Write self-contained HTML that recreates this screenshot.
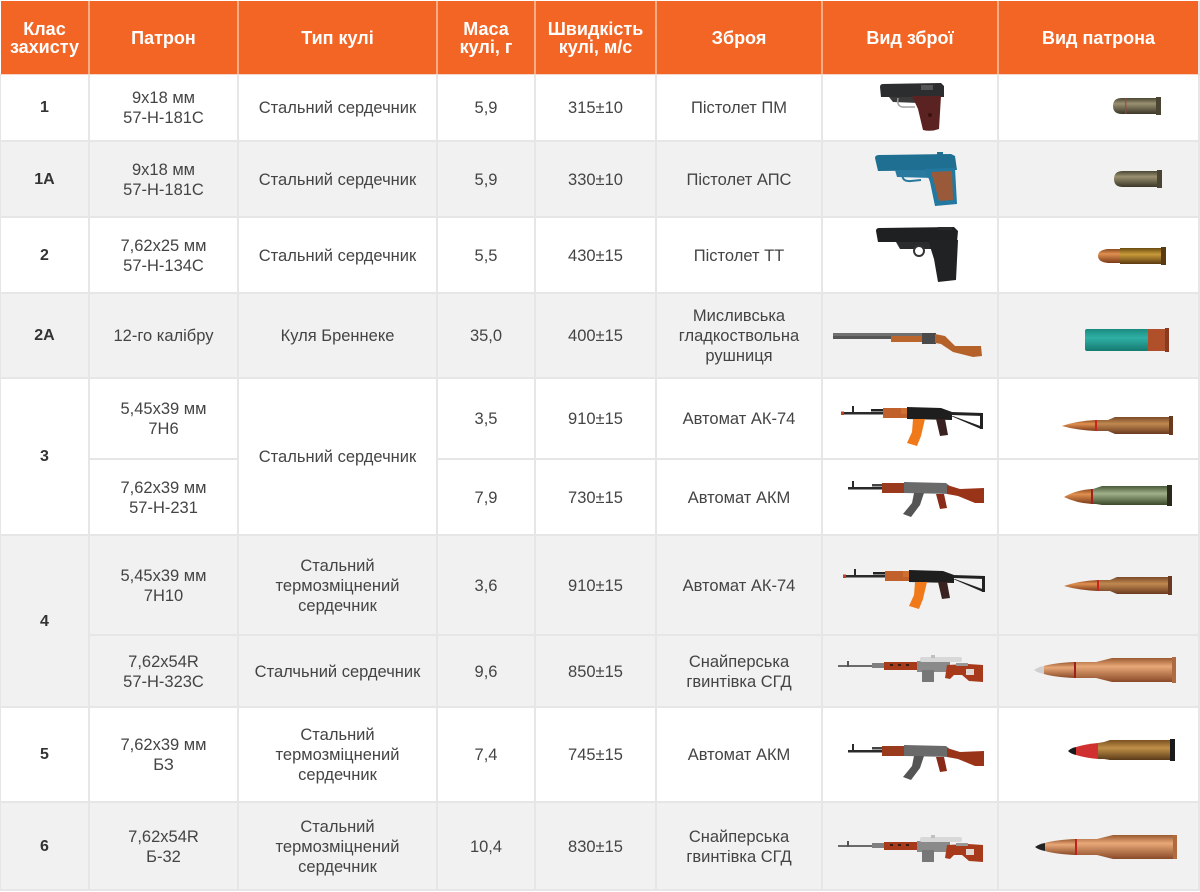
<!DOCTYPE html>
<html>
<head>
<meta charset="utf-8">
<style>
html,body{margin:0;padding:0;}
body{width:1200px;height:892px;position:relative;overflow:hidden;background:#fff;font-family:"Liberation Sans","Noto Sans CJK SC",sans-serif;}
.bg{position:absolute;}
.l{position:absolute;background:#e6e6e6;}
.hl{position:absolute;background:#f7ab86;}
.c{position:absolute;display:flex;align-items:center;justify-content:center;text-align:center;font-size:16.5px;line-height:20px;color:#444;}
.h{position:absolute;display:flex;align-items:center;justify-content:center;text-align:center;font-size:18px;line-height:18px;color:#fff;font-weight:bold;}
.b{font-weight:bold;font-size:16px;color:#333;}
svg{position:absolute;left:0;top:0;}
</style>
</head>
<body>
<!-- backgrounds -->
<div class="bg" style="left:1px;top:1px;width:1197px;height:73px;background:#f26524;"></div>
<div class="bg" style="left:0;top:141px;width:1200px;height:76px;background:#f1f1f1;"></div>
<div class="bg" style="left:0;top:293px;width:1200px;height:85px;background:#f1f1f1;"></div>
<div class="bg" style="left:0;top:535px;width:1200px;height:172px;background:#f1f1f1;"></div>
<div class="bg" style="left:0;top:802px;width:1200px;height:88px;background:#f1f1f1;"></div>

<!-- header lines -->
<div class="hl" style="left:88px;top:1px;width:2px;height:73px;"></div>
<div class="hl" style="left:237px;top:1px;width:2px;height:73px;"></div>
<div class="hl" style="left:436px;top:1px;width:2px;height:73px;"></div>
<div class="hl" style="left:534px;top:1px;width:2px;height:73px;"></div>
<div class="hl" style="left:655px;top:1px;width:2px;height:73px;"></div>
<div class="hl" style="left:821px;top:1px;width:2px;height:73px;"></div>
<div class="hl" style="left:997px;top:1px;width:2px;height:73px;"></div>

<!-- body vertical lines -->
<div class="l" style="left:0;top:74px;width:1px;height:817px;"></div>
<div class="l" style="left:88px;top:74px;width:2px;height:817px;"></div>
<div class="l" style="left:237px;top:74px;width:2px;height:817px;"></div>
<div class="l" style="left:436px;top:74px;width:2px;height:817px;"></div>
<div class="l" style="left:534px;top:74px;width:2px;height:817px;"></div>
<div class="l" style="left:655px;top:74px;width:2px;height:817px;"></div>
<div class="l" style="left:821px;top:74px;width:2px;height:817px;"></div>
<div class="l" style="left:997px;top:74px;width:2px;height:817px;"></div>
<div class="l" style="left:1198px;top:1px;width:2px;height:890px;"></div>

<!-- horizontal lines -->
<div class="l" style="left:0;top:74px;width:1200px;height:1px;background:#f3d6c8;"></div>
<div class="l" style="left:0;top:140px;width:1200px;height:2px;"></div>
<div class="l" style="left:0;top:216px;width:1200px;height:2px;"></div>
<div class="l" style="left:0;top:292px;width:1200px;height:2px;"></div>
<div class="l" style="left:0;top:377px;width:1200px;height:2px;"></div>
<div class="l" style="left:88px;top:458px;width:150px;height:2px;"></div>
<div class="l" style="left:436px;top:458px;width:764px;height:2px;"></div>
<div class="l" style="left:0;top:534px;width:1200px;height:2px;"></div>
<div class="l" style="left:88px;top:634px;width:1112px;height:2px;"></div>
<div class="l" style="left:0;top:706px;width:1200px;height:2px;"></div>
<div class="l" style="left:0;top:801px;width:1200px;height:2px;"></div>
<div class="l" style="left:0;top:889px;width:1200px;height:2px;"></div>

<!-- header text -->
<div class="h" style="left:0;top:0;width:89px;height:76px;">Клас<br>захисту</div>
<div class="h" style="left:89px;top:0;width:149px;height:76px;">Патрон</div>
<div class="h" style="left:238px;top:0;width:199px;height:76px;">Тип кулі</div>
<div class="h" style="left:437px;top:0;width:98px;height:76px;">Маса<br>кулі, г</div>
<div class="h" style="left:535px;top:0;width:121px;height:76px;">Швидкість<br>кулі, м/с</div>
<div class="h" style="left:656px;top:0;width:166px;height:76px;">Зброя</div>
<div class="h" style="left:822px;top:0;width:176px;height:76px;">Вид зброї</div>
<div class="h" style="left:998px;top:0;width:201px;height:76px;">Вид патрона</div>

<!-- row 1 -->
<div class="c b" style="left:0;top:75px;width:89px;height:66px;">1</div>
<div class="c" style="left:89px;top:75px;width:149px;height:66px;">9x18 мм<br>57-Н-181С</div>
<div class="c" style="left:238px;top:75px;width:199px;height:66px;">Стальний сердечник</div>
<div class="c" style="left:437px;top:75px;width:98px;height:66px;">5,9</div>
<div class="c" style="left:535px;top:75px;width:121px;height:66px;">315±10</div>
<div class="c" style="left:656px;top:75px;width:166px;height:66px;">Пістолет ПМ</div>

<!-- row 1A -->
<div class="c b" style="left:0;top:142px;width:89px;height:75px;">1А</div>
<div class="c" style="left:89px;top:142px;width:149px;height:75px;">9x18 мм<br>57-Н-181С</div>
<div class="c" style="left:238px;top:142px;width:199px;height:75px;">Стальний сердечник</div>
<div class="c" style="left:437px;top:142px;width:98px;height:75px;">5,9</div>
<div class="c" style="left:535px;top:142px;width:121px;height:75px;">330±10</div>
<div class="c" style="left:656px;top:142px;width:166px;height:75px;">Пістолет АПС</div>

<!-- row 2 -->
<div class="c b" style="left:0;top:218px;width:89px;height:75px;">2</div>
<div class="c" style="left:89px;top:218px;width:149px;height:75px;">7,62x25 мм<br>57-Н-134С</div>
<div class="c" style="left:238px;top:218px;width:199px;height:75px;">Стальний сердечник</div>
<div class="c" style="left:437px;top:218px;width:98px;height:75px;">5,5</div>
<div class="c" style="left:535px;top:218px;width:121px;height:75px;">430±15</div>
<div class="c" style="left:656px;top:218px;width:166px;height:75px;">Пістолет ТТ</div>

<!-- row 2A -->
<div class="c b" style="left:0;top:294px;width:89px;height:84px;">2А</div>
<div class="c" style="left:89px;top:294px;width:149px;height:84px;">12-го калібру</div>
<div class="c" style="left:238px;top:294px;width:199px;height:84px;">Куля Бреннеке</div>
<div class="c" style="left:437px;top:294px;width:98px;height:84px;">35,0</div>
<div class="c" style="left:535px;top:294px;width:121px;height:84px;">400±15</div>
<div class="c" style="left:656px;top:294px;width:166px;height:84px;">Мисливська<br>гладкоствольна<br>рушниця</div>

<!-- row 3 -->
<div class="c b" style="left:0;top:379px;width:89px;height:156px;">3</div>
<div class="c" style="left:238px;top:379px;width:199px;height:156px;">Стальний сердечник</div>
<div class="c" style="left:89px;top:379px;width:149px;height:80px;">5,45x39 мм<br>7Н6</div>
<div class="c" style="left:437px;top:379px;width:98px;height:80px;">3,5</div>
<div class="c" style="left:535px;top:379px;width:121px;height:80px;">910±15</div>
<div class="c" style="left:656px;top:379px;width:166px;height:80px;">Автомат АК-74</div>
<div class="c" style="left:89px;top:460px;width:149px;height:75px;">7,62x39 мм<br>57-Н-231</div>
<div class="c" style="left:437px;top:460px;width:98px;height:75px;">7,9</div>
<div class="c" style="left:535px;top:460px;width:121px;height:75px;">730±15</div>
<div class="c" style="left:656px;top:460px;width:166px;height:75px;">Автомат АКМ</div>

<!-- row 4 -->
<div class="c b" style="left:0;top:536px;width:89px;height:171px;">4</div>
<div class="c" style="left:89px;top:536px;width:149px;height:99px;">5,45x39 мм<br>7Н10</div>
<div class="c" style="left:238px;top:536px;width:199px;height:99px;">Стальний<br>термозміцнений<br>сердечник</div>
<div class="c" style="left:437px;top:536px;width:98px;height:99px;">3,6</div>
<div class="c" style="left:535px;top:536px;width:121px;height:99px;">910±15</div>
<div class="c" style="left:656px;top:536px;width:166px;height:99px;">Автомат АК-74</div>
<div class="c" style="left:89px;top:636px;width:149px;height:71px;">7,62x54R<br>57-Н-323С</div>
<div class="c" style="left:238px;top:636px;width:199px;height:71px;">Сталчьний сердечник</div>
<div class="c" style="left:437px;top:636px;width:98px;height:71px;">9,6</div>
<div class="c" style="left:535px;top:636px;width:121px;height:71px;">850±15</div>
<div class="c" style="left:656px;top:636px;width:166px;height:71px;">Снайперська<br>гвинтівка СГД</div>

<!-- row 5 -->
<div class="c b" style="left:0;top:708px;width:89px;height:94px;">5</div>
<div class="c" style="left:89px;top:708px;width:149px;height:94px;">7,62x39 мм<br>БЗ</div>
<div class="c" style="left:238px;top:708px;width:199px;height:94px;">Стальний<br>термозміцнений<br>сердечник</div>
<div class="c" style="left:437px;top:708px;width:98px;height:94px;">7,4</div>
<div class="c" style="left:535px;top:708px;width:121px;height:94px;">745±15</div>
<div class="c" style="left:656px;top:708px;width:166px;height:94px;">Автомат АКМ</div>

<!-- row 6 -->
<div class="c b" style="left:0;top:803px;width:89px;height:87px;">6</div>
<div class="c" style="left:89px;top:803px;width:149px;height:87px;">7,62x54R<br>Б-32</div>
<div class="c" style="left:238px;top:803px;width:199px;height:87px;">Стальний<br>термозміцнений<br>сердечник</div>
<div class="c" style="left:437px;top:803px;width:98px;height:87px;">10,4</div>
<div class="c" style="left:535px;top:803px;width:121px;height:87px;">830±15</div>
<div class="c" style="left:656px;top:803px;width:166px;height:87px;">Снайперська<br>гвинтівка СГД</div>

<svg width="1200" height="892" viewBox="0 0 1200 892">
<defs>
  <linearGradient id="olive" x1="0" y1="0" x2="0" y2="1">
    <stop offset="0" stop-color="#4a4634"/><stop offset="0.35" stop-color="#9a9070"/><stop offset="1" stop-color="#3a3628"/>
  </linearGradient>
  <linearGradient id="copper" x1="0" y1="0" x2="0" y2="1">
    <stop offset="0" stop-color="#8a4a20"/><stop offset="0.35" stop-color="#e09050"/><stop offset="1" stop-color="#7a3a18"/>
  </linearGradient>
  <linearGradient id="brass" x1="0" y1="0" x2="0" y2="1">
    <stop offset="0" stop-color="#6a4a10"/><stop offset="0.4" stop-color="#c89a3a"/><stop offset="1" stop-color="#5a3a10"/>
  </linearGradient>
  <linearGradient id="teal" x1="0" y1="0" x2="0" y2="1">
    <stop offset="0" stop-color="#1a8a80"/><stop offset="0.4" stop-color="#30b0a5"/><stop offset="1" stop-color="#157a70"/>
  </linearGradient>
  <linearGradient id="case74" x1="0" y1="0" x2="0" y2="1">
    <stop offset="0" stop-color="#7a4a28"/><stop offset="0.4" stop-color="#c08850"/><stop offset="1" stop-color="#6a3a20"/>
  </linearGradient>
  <linearGradient id="green" x1="0" y1="0" x2="0" y2="1">
    <stop offset="0" stop-color="#4a5a3a"/><stop offset="0.4" stop-color="#a0b08a"/><stop offset="1" stop-color="#3a4a2a"/>
  </linearGradient>
  <linearGradient id="cu2" x1="0" y1="0" x2="0" y2="1">
    <stop offset="0" stop-color="#9a5a30"/><stop offset="0.35" stop-color="#e8a878"/><stop offset="1" stop-color="#8a4a28"/>
  </linearGradient>
  <linearGradient id="bz" x1="0" y1="0" x2="0" y2="1">
    <stop offset="0" stop-color="#7a5020"/><stop offset="0.4" stop-color="#c09048"/><stop offset="1" stop-color="#5a3a18"/>
  </linearGradient>

  <g id="ak74">
    <rect x="0" y="6" width="44" height="2.5" fill="#2a2a2a"/>
    <rect x="0" y="5.5" width="3" height="3.5" fill="#c04020"/>
    <rect x="11" y="0" width="2" height="7" fill="#2a2a2a"/>
    <rect x="30" y="3" width="38" height="2.5" fill="#222"/>
    <rect x="42" y="2" width="25" height="10" fill="#c0602a"/>
    <rect x="60" y="2" width="8" height="6" fill="#d07030"/>
    <path d="M66,1 L100,2 L111,6 L111,14 L66,13 Z" fill="#1e1e1e"/>
    <path d="M72,13 L84,13 L80,30 L76,40 L66,37 L71,26 Z" fill="#f07a1a"/>
    <path d="M95,13 L104,13 L107,29 L99,30 Z" fill="#3a2220"/>
    <path d="M110,6 L142,7 L142,10 L110,9 Z" fill="#222"/>
    <path d="M110,10 L112,10 L142,21 L140,23 Z" fill="#222"/>
    <rect x="139" y="7" width="3" height="16" fill="#222"/>
  </g>
  <g id="akm">
    <rect x="0" y="6" width="40" height="2.5" fill="#2a2a2a"/>
    <rect x="4" y="0" width="2" height="7" fill="#2a2a2a"/>
    <rect x="24" y="3" width="36" height="2.5" fill="#444"/>
    <rect x="34" y="2" width="24" height="10" fill="#9a3a1c"/>
    <path d="M56,1 L98,2 L104,7 L104,13 L56,12 Z" fill="#6a6a6a"/>
    <path d="M99,4 L112,8 L136,7 L136,22 L127,22 L110,15 L99,13 Z" fill="#9a3418"/>
    <path d="M66,12 L76,12 L72,24 L63,36 L55,33 L64,22 Z" fill="#555"/>
    <path d="M88,13 L96,13 L99,27 L92,28 Z" fill="#8a2a18"/>
  </g>
  <g id="svd">
    <rect x="0" y="10" width="48" height="2" fill="#6a6a6a"/>
    <rect x="9" y="6" width="2" height="6" fill="#555"/>
    <rect x="34" y="8" width="14" height="5" fill="#808080"/>
    <rect x="46" y="7" width="34" height="8" fill="#a83a1c"/>
    <rect x="52" y="9" width="3" height="2" fill="#3a1a10"/>
    <rect x="60" y="9" width="3" height="2" fill="#3a1a10"/>
    <rect x="68" y="9" width="3" height="2" fill="#3a1a10"/>
    <path d="M79,6 L112,7 L112,17 L79,17 Z" fill="#8a8a8a"/>
    <rect x="82" y="2" width="42" height="5" rx="2" fill="#d8d8d8"/>
    <rect x="93" y="0" width="4" height="3" fill="#c0c0c0"/>
    <rect x="84" y="15" width="12" height="12" fill="#777"/>
    <path d="M109,10 L130,9 L145,10 L145,27 L131,26 L124,20 L116,20 L112,24 L107,23 Z" fill="#a83a1c"/>
    <rect x="128" y="14" width="8" height="6" fill="#e8e8e8" opacity="0.9"/>
    <rect x="118" y="8" width="12" height="3" fill="#999"/>
  </g>
</defs>

<!-- PM pistol -->
<g transform="translate(879,83)">
  <path d="M1,4 Q1,1 4,1 L62,0 L65,3 L65,14 L2,14 Z" fill="#2b2d2f"/>
  <rect x="42" y="2" width="12" height="5" fill="#555"/>
  <path d="M10,14 L40,14 L40,20 L14,19 Z" fill="#3a3a3a"/>
  <path d="M19,15 Q17,25 27,24 L36,24" fill="none" stroke="#a0a0a0" stroke-width="1.5"/>
  <path d="M33,13 L62,13 L60,46 Q52,49 44,47 L39,26 Z" fill="#5a2220"/>
  <circle cx="51" cy="32" r="2" fill="#3a1010"/>
</g>
<!-- APS pistol -->
<g transform="translate(875,152)">
  <path d="M0,6 Q0,3 4,3 L76,2 L80,4 L82,18 L3,19 Z" fill="#1f6f92"/>
  <rect x="62" y="0" width="6" height="3" fill="#1f6f92"/>
  <path d="M20,18 L58,18 L58,26 L22,25 Z" fill="#2a7aa0"/>
  <path d="M28,19 Q25,30 36,29 L46,28" fill="none" stroke="#2a7aa0" stroke-width="2"/>
  <path d="M50,17 L80,16 L82,52 L60,54 L55,30 Z" fill="#2378a0"/>
  <path d="M56,20 L77,19 L78,48 L64,49 L59,30 Z" fill="#9a5a3a"/>
</g>
<!-- TT pistol -->
<g transform="translate(876,227)">
  <path d="M0,4 Q0,1 3,1 L78,0 L82,4 L81,15 L2,15 Z" fill="#1e2022"/>
  <rect x="62" y="0" width="14" height="3" fill="#2a2a2a"/>
  <path d="M20,15 L58,15 L58,22 L24,22 Z" fill="#2a2c2e"/>
  <circle cx="43" cy="24" r="5" fill="#fff" stroke="#333" stroke-width="2"/>
  <path d="M52,13 L82,13 L80,53 L62,55 L58,32 Z" fill="#202224"/>
</g>
<!-- Shotgun -->
<g transform="translate(833,328)">
  <rect x="0" y="5" width="100" height="3" fill="#707070"/>
  <rect x="0" y="8" width="90" height="3" fill="#555"/>
  <rect x="58" y="8" width="32" height="6" fill="#b9652c"/>
  <rect x="89" y="5" width="14" height="11" fill="#4a4a4a"/>
  <path d="M102,6 L112,8 L122,18 L148,18 L149,28 L140,29 L120,24 L108,16 L102,15 Z" fill="#b5622a"/>
</g>

<!-- weapons -->
<use href="#ak74" x="841" y="406"/>
<use href="#akm" x="848" y="481"/>
<use href="#ak74" x="843" y="569"/>
<use href="#svd" x="838" y="655"/>
<use href="#akm" x="848" y="744"/>
<use href="#svd" x="838" y="835"/>

<!-- PM bullets -->
<g transform="translate(1113,97)">
  <path d="M9,1 L44,1 L44,17 L9,17 Q0,17 0,9 Q0,1 9,1 Z" fill="url(#olive)"/>
  <rect x="12" y="1" width="1.5" height="16" fill="#a04040" opacity="0.7"/>
  <rect x="43" y="0" width="5" height="18" fill="#4a4432"/>
</g>
<g transform="translate(1114,170)">
  <path d="M9,1 L44,1 L44,17 L9,17 Q0,17 0,9 Q0,1 9,1 Z" fill="url(#olive)"/>
  <rect x="43" y="0" width="5" height="18" fill="#4a4432"/>
</g>
<!-- TT bullet -->
<g transform="translate(1098,247)">
  <path d="M10,2 L22,2 L22,16 L10,16 Q0,15 0,9 Q0,3 10,2 Z" fill="url(#copper)"/>
  <rect x="22" y="1" width="42" height="16" fill="url(#brass)"/>
  <rect x="63" y="0" width="5" height="18" fill="#5a3a10"/>
</g>
<!-- shotgun shell -->
<g transform="translate(1085,328)">
  <rect x="0" y="1" width="64" height="22" rx="2" fill="url(#teal)"/>
  <rect x="63" y="1" width="18" height="22" fill="#b0502a"/>
  <rect x="80" y="0" width="4" height="24" fill="#8a3a20"/>
</g>
<!-- AK-74 bullets -->
<g transform="translate(1062,416)">
  <path d="M0,10 Q14,5 34,4 L34,15 Q14,14 0,10 Z" fill="url(#copper)"/>
  <rect x="33" y="4" width="2" height="11" fill="#d02020"/>
  <path d="M35,4 L46,4 L53,1 L108,1 L108,18 L53,18 L46,15 L35,15 Z" fill="url(#case74)"/>
  <rect x="107" y="0" width="4" height="19" fill="#6a3a20"/>
</g>
<g transform="translate(1064,576)">
  <path d="M0,10 Q14,5 34,4 L34,15 Q14,14 0,10 Z" fill="url(#copper)"/>
  <rect x="33" y="4" width="2" height="11" fill="#d02020"/>
  <path d="M35,4 L46,4 L53,1 L105,1 L105,18 L53,18 L46,15 L35,15 Z" fill="url(#case74)"/>
  <rect x="104" y="0" width="4" height="19" fill="#6a3a20"/>
</g>
<!-- AKM bullet -->
<g transform="translate(1064,485)">
  <path d="M0,12 Q12,5 28,4 L28,19 Q12,18 0,12 Z" fill="url(#copper)"/>
  <rect x="27" y="4" width="2" height="15" fill="#a02020"/>
  <path d="M29,4 L32,3 L38,1 L104,1 L104,20 L38,20 L32,19 L29,19 Z" fill="url(#green)"/>
  <rect x="103" y="0" width="5" height="21" fill="#2a2a1a"/>
</g>
<!-- SVD bullets -->
<g transform="translate(1034,657)">
  <path d="M0,13 Q4,10 10,9 L10,17 Q4,16 0,13 Z" fill="#d0d0d0"/>
  <path d="M10,9 Q20,6 40,5 L40,21 Q20,20 10,17 Z" fill="url(#cu2)"/>
  <rect x="40" y="5" width="2" height="16" fill="#a02020"/>
  <path d="M42,5 L62,5 L78,1 L140,1 L140,25 L78,25 L62,21 L42,21 Z" fill="url(#cu2)"/>
  <rect x="138" y="0" width="4" height="26" fill="#b06a40"/>
</g>
<g transform="translate(1035,835)">
  <path d="M0,12 Q4,9 10,8 L10,16 Q4,15 0,12 Z" fill="#222"/>
  <path d="M10,8 Q20,5 40,4 L40,20 Q20,19 10,16 Z" fill="url(#cu2)"/>
  <rect x="40" y="4" width="2" height="16" fill="#c02020"/>
  <path d="M42,4 L62,4 L78,0 L140,0 L140,24 L78,24 L62,20 L42,20 Z" fill="url(#cu2)"/>
  <rect x="138" y="0" width="4" height="24" fill="#b06a40"/>
</g>
<!-- BZ bullet -->
<g transform="translate(1068,739)">
  <path d="M0,12 Q3,9 8,8 L8,16 Q3,15 0,12 Z" fill="#1a1a1a"/>
  <path d="M8,8 Q18,5 30,4 L30,20 Q18,19 8,16 Z" fill="#d03030"/>
  <path d="M30,4 L36,3 L42,1 L103,1 L103,21 L42,21 L36,20 L30,20 Z" fill="url(#bz)"/>
  <rect x="102" y="0" width="5" height="22" fill="#1a1a1a"/>
</g>
</svg>
</body>
</html>
